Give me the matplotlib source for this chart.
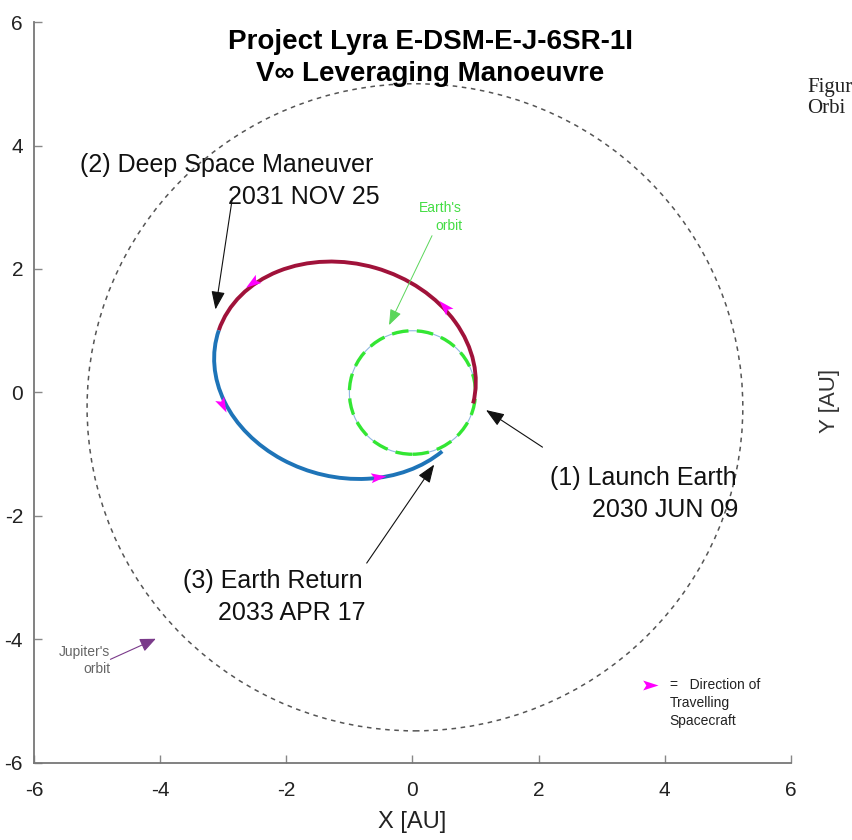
import numpy as np
import matplotlib
matplotlib.use("Agg")
import matplotlib.pyplot as plt
from matplotlib.patches import Arc, Ellipse, Circle
from matplotlib.path import Path
from matplotlib.markers import MarkerStyle
from matplotlib.transforms import Affine2D

plt.rcParams['font.family'] = ['Liberation Sans', 'DejaVu Sans']

# ---- data (AU) ----
title_lines = ["Project Lyra E-DSM-E-J-6SR-1I", "V\u221e Leveraging Manoeuvre"]
ticks = [-6, -4, -2, 0, 2, 4, 6]

earth_center = (0.0, 0.0)
earth_radius = 1.0

jupiter_center = (0.04, -0.24)
jupiter_width = 10.40
jupiter_height = 10.48

traj_center = (-1.07, 0.36)
traj_width = 4.206
traj_height = 3.454
traj_tilt = -16.6         # deg
launch_angle = 1.8        # deg, in the ellipse frame
dsm_angle = 178.7
return_angle = 336.2

dir_points = [(-2.523, 1.788), (0.515, 1.382), (-3.024, -0.184), (-0.567, -1.373)]
legend_arrow = (3.76, -4.73)

events = [
    ("(2) Deep Space Maneuver", "2031 NOV 25", (-5.27, 3.68), (-0.52, 3.16), (-2.85, 3.19), (-3.13, 1.30)),
    ("(1) Launch Earth", "2030 JUN 09", (2.18, -1.38), (5.16, -1.91), (2.10, -0.91), (1.13, -0.26)),
    ("(3) Earth Return", "2033 APR 17", (-3.64, -3.06), (-0.75, -3.57), (-0.75, -2.80), (0.37, -1.13)),
]

red = '#A0123A'
blue = '#1E74B8'
green = '#33E633'
magenta = '#FF00FF'

fig = plt.figure(figsize=(8.53, 8.40), dpi=100)
ax = fig.add_axes([0.040, 0.0917, 0.887, 0.8821])
ax.set_xlim(-6, 6)
ax.set_ylim(-6, 6)

# Jupiter's orbit
ax.add_patch(Ellipse(jupiter_center, jupiter_width, jupiter_height, fill=False,
                     ec='#555555', lw=1.1, ls=(0, (3, 3))))

# Earth's orbit
ax.add_patch(Circle(earth_center, earth_radius, fill=False, ec='#8fb7e0', lw=0.8))
ax.add_patch(Circle(earth_center, earth_radius, fill=False, ec=green, lw=2.4, ls=(0, (5, 2.5))))

# trajectory
ax.add_patch(Arc(traj_center, traj_width, traj_height, angle=traj_tilt,
                 theta1=launch_angle, theta2=dsm_angle, ec=red, lw=2.8, zorder=3))
ax.add_patch(Arc(traj_center, traj_width, traj_height, angle=traj_tilt,
                 theta1=dsm_angle, theta2=return_angle, ec=blue, lw=2.8, zorder=3))

# arrowhead marker
head_path = Path([(1.0, 0.0), (-0.7, 0.55), (-0.35, 0.0), (-0.7, -0.55), (1.0, 0.0)],
                 [Path.MOVETO, Path.LINETO, Path.LINETO, Path.LINETO, Path.CLOSEPOLY])


def head_marker(deg):
    return MarkerStyle(head_path, transform=Affine2D().rotate_deg(deg))


a, b = traj_width / 2, traj_height / 2
phi = np.deg2rad(traj_tilt)
c, s = np.cos(phi), np.sin(phi)
for (px, py) in dir_points:
    dx, dy = px - traj_center[0], py - traj_center[1]
    lx, ly = dx * c + dy * s, -dx * s + dy * c
    t = np.arctan2(ly / b, lx / a)
    tx, ty = -a * np.sin(t), b * np.cos(t)
    gx, gy = tx * c - ty * s, tx * s + ty * c
    ang = np.degrees(np.arctan2(gy, gx))
    ax.plot([px], [py], marker=head_marker(ang), ms=13, color=magenta, mec=magenta,
            mew=0, ls='none', zorder=5)

# event labels
for l1, l2, p1, p2, st, en in events:
    ax.text(p1[0], p1[1], l1, fontsize=18, ha='left', va='center', color='#111111')
    ax.text(p2[0], p2[1], l2, fontsize=18, ha='right', va='center', color='#111111')
    ax.annotate('', xy=en, xytext=st,
                arrowprops=dict(arrowstyle='-|>,head_length=0.8,head_width=0.3',
                                color='#111111', lw=0.8, mutation_scale=14))

# Earth's orbit label
ax.text(0.45, 2.84, "Earth's\norbit", fontsize=10, ha='center', va='center',
        color='#44dd44', multialignment='right', linespacing=1.3)
ax.annotate('', xy=(-0.39, 1.05), xytext=(0.33, 2.58),
            arrowprops=dict(arrowstyle='-|>,head_length=0.8,head_width=0.3',
                            color='#5ad65a', lw=0.7, mutation_scale=12))

# Jupiter's orbit label
ax.text(-4.79, -4.34, "Jupiter's\norbit", fontsize=10, ha='right', va='center',
        color='#666666', multialignment='right', linespacing=1.3)
ax.annotate('', xy=(-4.03, -3.97), xytext=(-4.83, -4.34),
            arrowprops=dict(arrowstyle='-|>,head_length=0.8,head_width=0.35',
                            color='#7a3a8a', lw=0.8, mutation_scale=12))

# legend for arrowheads
ax.plot([legend_arrow[0]], [legend_arrow[1]], marker=head_marker(0), ms=13,
        color=magenta, mew=0, ls='none')
ax.text(4.08, -4.73, "=   Direction of", fontsize=10, ha='left', va='center', color='#222222')
ax.text(4.08, -5.03, "Travelling", fontsize=10, ha='left', va='center', color='#222222')
ax.text(4.08, -5.32, "Spacecraft", fontsize=10, ha='left', va='center', color='#222222')

# title
ax.text(0.28, 5.68, title_lines[0], fontsize=20, fontweight='bold', ha='center', va='center')
ax.text(0.28, 5.15, title_lines[1], fontsize=20, fontweight='bold', ha='center', va='center')

# axes styling
for sp in ['top', 'right']:
    ax.spines[sp].set_visible(False)
for sp in ['left', 'bottom']:
    ax.spines[sp].set_color('#777777')
    ax.spines[sp].set_linewidth(1.3)
ax.set_xticks(ticks)
ax.set_yticks(ticks)
ax.set_xticklabels([str(v) for v in ticks])
ax.set_yticklabels([str(v) for v in ticks])
ax.tick_params(direction='in', length=6, width=1, color='#888888', labelsize=15,
               labelcolor='#222222')
ax.tick_params(axis='x', pad=13)
ax.tick_params(axis='y', pad=8)
ax.set_xlabel("X [AU]", fontsize=17, color='#222222', labelpad=8)

fig.text(0.973, 0.523, "Y [AU]", fontsize=16, rotation=90, ha='center', va='center', color='#333333')
fig.text(0.946, 0.896, "Figur", fontsize=15, family='Liberation Serif', ha='left', va='center', color='#222222')
fig.text(0.946, 0.871, "Orbi", fontsize=15, family='Liberation Serif', ha='left', va='center', color='#222222')

fig.savefig("out.png", dpi=100)
